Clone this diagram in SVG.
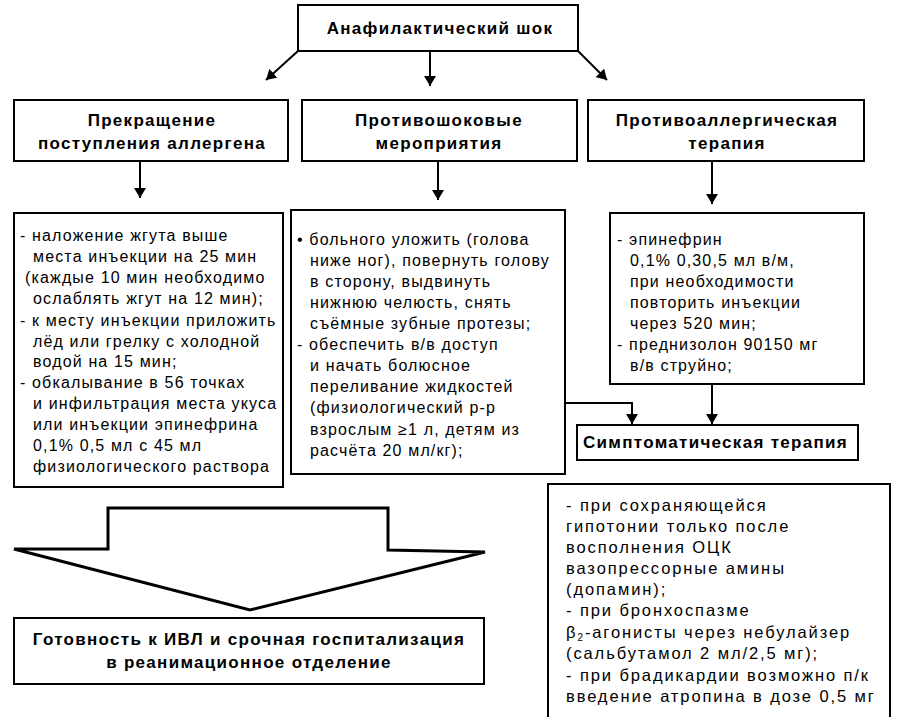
<svg xmlns="http://www.w3.org/2000/svg" width="909" height="717" viewBox="0 0 909 717">
<defs>
<marker id="ah" viewBox="0 0 10 12" refX="10" refY="6" markerWidth="10" markerHeight="12" markerUnits="userSpaceOnUse" orient="auto"><path d="M0,0 L10,6 L0,12 Z" fill="#000"/></marker>
<style>
.box{fill:#fff;stroke:#000;stroke-width:2}
.t{font-family:"Liberation Sans",Arial,sans-serif;font-size:16px;letter-spacing:1.15px;fill:#000}
.w{font-family:"Liberation Sans",Arial,sans-serif;font-size:16.5px;letter-spacing:1.9px;fill:#000}
.b{font-family:"Liberation Sans",Arial,sans-serif;font-size:17px;font-weight:bold;letter-spacing:1.3px;fill:#000}
.c{text-anchor:middle}
.ln{stroke:#000;stroke-width:2;fill:none}
</style>
</defs>
<rect width="909" height="717" fill="#fff"/>
<g id="connectors">
<line class="ln" x1="298" y1="51" x2="266" y2="80" marker-end="url(#ah)"/>
<line class="ln" x1="430" y1="51" x2="430" y2="86" marker-end="url(#ah)"/>
<line class="ln" x1="578" y1="51" x2="607" y2="80" marker-end="url(#ah)"/>
<line class="ln" x1="140" y1="161" x2="140" y2="198" marker-end="url(#ah)"/>
<line class="ln" x1="438" y1="161" x2="438" y2="200" marker-end="url(#ah)"/>
<line class="ln" x1="712" y1="161" x2="712" y2="204" marker-end="url(#ah)"/>
<polyline class="ln" points="565,403 632,403 632,424" marker-end="url(#ah)"/>
<line class="ln" x1="712" y1="384" x2="712" y2="424" marker-end="url(#ah)"/>
<polygon points="108,508 388,508 388,550 485,552 250,610 14,549 108,549" fill="none" stroke="#000" stroke-width="3" stroke-linejoin="miter"/>
</g>
<g id="root">
<rect class="box" x="298" y="5" width="280" height="46"/>
<text class="b c" x="440" y="34">Анафилактический шок</text>
</g>
<g id="stop-allergen">
<rect class="box" x="14" y="100" width="274" height="61"/>
<text class="b c" x="152" y="126">Прекращение</text>
<text class="b c" x="152" y="149">поступления аллергена</text>
</g>
<g id="antishock">
<rect class="box" x="302" y="100" width="275" height="61"/>
<text class="b c" x="439" y="126">Противошоковые</text>
<text class="b c" x="439" y="149">мероприятия</text>
</g>
<g id="antiallergic">
<rect class="box" x="588" y="100" width="276" height="61"/>
<text class="b c" x="727" y="126">Противоаллергическая</text>
<text class="b c" x="727" y="149">терапия</text>
</g>
<g id="stop-allergen-steps">
<rect class="box" x="14" y="213" width="269" height="274"/>
<text class="t" x="20" y="241">- наложение жгута выше</text>
<text class="t" x="33" y="262">места инъекции на 25 мин</text>
<text class="t" x="25" y="283">(каждые 10 мин необходимо</text>
<text class="t" x="33" y="304">ослаблять жгут на 12 мин);</text>
<text class="t" x="20" y="326">- к месту инъекции приложить</text>
<text class="t" x="33" y="347">лёд или грелку с холодной</text>
<text class="t" x="33" y="367">водой на 15 мин;</text>
<text class="t" x="20" y="388">- обкалывание в 56 точках</text>
<text class="t" x="33" y="409">и инфильтрация места укуса</text>
<text class="t" x="33" y="430">или инъекции эпинефрина</text>
<text class="t" x="33" y="451">0,1% 0,5 мл с 45 мл</text>
<text class="t" x="33" y="472">физиологического раствора</text>
</g>
<g id="antishock-steps">
<rect class="box" x="291" y="210" width="274" height="264"/>
<text class="t" x="297" y="245">• больного уложить (голова</text>
<text class="t" x="310" y="266">ниже ног), повернуть голову</text>
<text class="t" x="310" y="287">в сторону, выдвинуть</text>
<text class="t" x="310" y="308">нижнюю челюсть, снять</text>
<text class="t" x="310" y="329">съёмные зубные протезы;</text>
<text class="t" x="297" y="350">- обеспечить в/в доступ</text>
<text class="t" x="310" y="371">и начать болюсное</text>
<text class="t" x="310" y="392">переливание жидкостей</text>
<text class="t" x="310" y="413">(физиологический р-р</text>
<text class="t" x="310" y="435">взрослым ≥1 л, детям из</text>
<text class="t" x="310" y="456">расчёта 20 мл/кг);</text>
</g>
<g id="antiallergic-steps">
<rect class="box" x="610" y="213" width="254" height="171"/>
<text class="t" x="617" y="245">- эпинефрин</text>
<text class="t" x="630" y="266">0,1% 0,30,5 мл в/м,</text>
<text class="t" x="630" y="287">при необходимости</text>
<text class="t" x="630" y="308">повторить инъекции</text>
<text class="t" x="630" y="329">через 520 мин;</text>
<text class="t" x="617" y="350">- преднизолон 90150 мг</text>
<text class="t" x="630" y="371">в/в струйно;</text>
</g>
<g id="symptomatic">
<rect class="box" x="577" y="425" width="281" height="35"/>
<text class="b" x="583" y="448">Симптоматическая терапия</text>
</g>
<g id="symptomatic-steps">
<path d="M548,717 L548,484 L890,484 L890,717" fill="#fff" stroke="#000" stroke-width="2"/>
<text class="w" x="566" y="511">- при сохраняющейся</text>
<text class="w" x="566" y="532">гипотонии только после</text>
<text class="w" x="566" y="553">восполнения ОЦК</text>
<text class="w" x="566" y="574">вазопрессорные амины</text>
<text class="w" x="566" y="595">(допамин);</text>
<text class="w" x="566" y="616">- при бронхоспазме</text>
<text class="w" x="566" y="638">β<tspan font-size="10" dy="3">2</tspan><tspan dy="-3">-агонисты через небулайзер</tspan></text>
<text class="w" x="566" y="659">(сальбутамол 2 мл/2,5 мг);</text>
<text class="w" x="566" y="681">- при брадикардии возможно п/к</text>
<text class="w" x="566" y="702">введение атропина в дозе 0,5 мг</text>
</g>
<g id="hospitalization">
<rect class="box" x="14" y="618" width="470" height="66"/>
<text class="b c" x="249" y="645">Готовность к ИВЛ и срочная госпитализация</text>
<text class="b c" x="249" y="668">в реанимационное отделение</text>
</g>
</svg>
